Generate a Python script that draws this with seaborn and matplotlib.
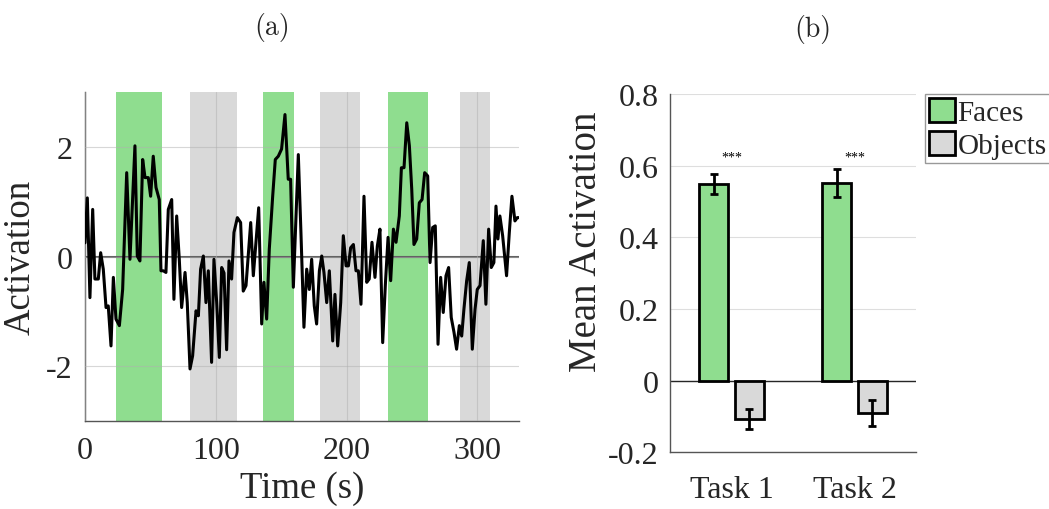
import numpy as np
import pandas as pd
import matplotlib
matplotlib.use('Agg')
import matplotlib.pyplot as plt
import seaborn as sns

sns.set_style('white')
plt.rcParams['font.family'] = ['Liberation Serif', 'DejaVu Serif']
plt.rcParams['axes.unicode_minus'] = False

# (a) time course
time_s = [0, 1.8, 3.8, 5.9, 7.6, 10.2, 12.0, 14.0, 16.1, 17.8, 19.9, 21.7, 23.7, 26.3, 28.8,
          31.9, 34.4, 38.2, 40.0, 42.0, 44.1, 45.9, 48.4, 50.2, 52.2, 54.3, 56.8, 58.1, 59.9,
          61.9, 63.7, 66.3, 68.0, 70.1, 72.1, 73.9, 76.5, 78.2, 80.3, 82.3, 84.9, 86.7, 88.4,
          90.5, 92.5, 94.3, 96.8, 98.6, 100.7, 102.7, 104.5, 106.3, 108.3, 110.1, 112.1, 113.9,
          116.5, 119.0, 121.0, 123.1, 126.7, 128.7, 130.7, 132.8, 135.1, 136.8, 138.9, 140.9,
          143.5, 145.5, 147.8, 150.3, 152.9, 155.4, 157.2, 159.3, 161.3, 163.1, 165.1, 167.4,
          169.5, 171.5, 173.3, 175.3, 177.1, 179.2, 181.0, 182.7, 184.8, 186.8, 189.4, 191.1,
          193.2, 195.5, 197.5, 199.6, 201.4, 203.1, 205.2, 207.2, 209.0, 211.0, 213.3, 215.4,
          217.3, 219.4, 221.7, 223.5, 225.5, 227.6, 229.6, 231.7, 233.7, 235.8, 237.8, 240.3,
          241.9, 243.9, 246.0, 248.0, 249.8, 251.5, 253.6, 255.6, 257.7, 259.7, 262.0, 263.8,
          265.8, 267.8, 269.9, 271.9, 273.9, 276.0, 278.0, 280.0, 282.1, 284.1, 286.2, 288.0,
          289.7, 291.8, 293.8, 296.1, 298.2, 299.9, 302.0, 304.5, 306.5, 308.6, 310.6, 312.6,
          314.2, 315.7, 317.2, 319.3, 322.3, 324.4, 326.4, 328.7, 330.5, 332.0]
activation = [0.25, 1.07, -0.75, 0.86, -0.41, -0.41, 0.07, -0.23, -0.93, -0.9, -1.63, -0.38, -1.14,
              -1.26, -0.6, 1.53, -0.05, 2.02, 0.01, -0.08, 1.77, 1.44, 1.44, 1.1, 1.83, 1.26, 1.04,
              -0.26, -0.26, -0.29, 0.86, 1.04, -0.78, 0.74, -0.05, -0.93, -0.29, -0.84, -2.05,
              -1.81, -0.99, -1.08, -0.23, 0.01, -0.84, -0.26, -1.93, -0.05, -0.84, -1.84, -0.2,
              -0.3, -1.7, -0.08, -0.41, 0.44, 0.71, 0.62, -0.63, -0.53, 0.62, -0.35, 0.26, 0.89,
              -1.23, -0.47, -1.14, 0.13, 1.1, 1.77, 1.83, 1.96, 2.59, 1.41, 1.41, -0.56, 0.74,
              1.86, 0.44, -1.29, -0.23, -0.6, -0.05, -0.9, -1.23, -0.26, 0.01, -0.29, -0.84, -0.26,
              -1.54, -0.69, -1.63, -0.84, 0.38, -0.17, -0.17, 0.16, 0.22, -0.26, -0.26, -0.87, 1.1,
              -0.47, -0.41, 0.26, -0.38, 0.19, 0.5, -1.57, -0.53, 0.35, -0.44, 0.5, 0.26, 0.74,
              1.62, 1.62, 2.44, 2.02, 1.23, 0.22, 0.32, 0.98, 1.04, 1.53, 1.47, -0.11, 0.53, 0.56,
              -1.6, -0.38, -1.02, -0.35, -0.2, -1.11, -1.38, -1.69, -1.26, -1.45, -0.96, -0.44,
              -0.11, -1.69, -0.96, -0.6, -0.53, 0.29, -0.87, 0.5, -0.2, -0.11, 0.92, 0.32, 0.74,
              0.38, -0.35, 0.44, 1.1, 0.65, 0.71, 0.71]
face_blocks = [(24, 59), (136, 160), (232, 262)]
object_blocks = [(80, 116), (180, 210), (287, 310)]

# (b) mean activation per task
tasks = ['Task 1', 'Task 2']
conditions = ['Faces', 'Objects']
faces_mean = [0.549, 0.551]
objects_mean = [-0.107, -0.090]
faces_err = [0.029, 0.039]
objects_err = [0.028, 0.036]
stars = ['***', '***']

green = '#8fdd8f'
gray = '#d9d9d9'
txt = '#262626'

fig = plt.figure(figsize=(10.49, 5.10), dpi=100)
ax1 = fig.add_axes([0.081, 0.1725, 0.414, 0.645])
ax2 = fig.add_axes([0.6387, 0.1112, 0.2345, 0.7025])

# ---- panel (a)
for a, b in face_blocks:
    ax1.axvspan(a, b, color=green, lw=0, zorder=0)
for a, b in object_blocks:
    ax1.axvspan(a, b, color=gray, lw=0, zorder=0)
ax1.grid(True, color='#b0b0b0', lw=0.8, alpha=0.5)
ax1.set_axisbelow(False)
ax1.axhline(0, color='#606060', lw=1.5, zorder=2)
sns.lineplot(x=time_s, y=activation, color='black', lw=2.2, ax=ax1, zorder=3)
ax1.set_xlim(0, 332)
ax1.set_ylim(-3, 3)
ax1.set_xticks([0, 100, 200, 300])
ax1.set_yticks([-2, 0, 2])
ax1.set_xlabel('Time (s)', fontsize=26.5, color=txt, labelpad=4)
ax1.set_ylabel('Activation', fontsize=26.5, color=txt, labelpad=6)
ax1.tick_params(direction='in', length=4, width=0.8, color='#555555', labelsize=23,
                labelcolor=txt, pad=9)
ax1.tick_params(axis='x', pad=11)
for s in ['top', 'right']:
    ax1.spines[s].set_visible(False)
for s in ['left', 'bottom']:
    ax1.spines[s].set_color('#555555')
    ax1.spines[s].set_linewidth(1)

# ---- panel (b)
df = pd.DataFrame({
    'task': tasks * 2,
    'condition': [conditions[0]] * 2 + [conditions[1]] * 2,
    'mean': faces_mean + objects_mean,
})
ax2.grid(True, color='#d0d0d0', lw=0.8, alpha=0.7)
ax2.set_axisbelow(True)
sns.barplot(data=df, x='task', y='mean', hue='condition', palette=[green, gray],
            saturation=1, width=0.58, gap=0.19, edgecolor='black', linewidth=2,
            errorbar=None, ax=ax2, zorder=2)
ax2.axhline(0, color=txt, lw=1, zorder=1)
for cont, errs in zip(ax2.containers, [faces_err, objects_err]):
    xs = [p.get_x() + p.get_width() / 2 for p in cont.patches]
    ys = [p.get_height() for p in cont.patches]
    ax2.errorbar(xs, ys, yerr=errs, fmt='none', ecolor='black', elinewidth=2,
                 capsize=3, capthick=2, zorder=3)
for i, s in enumerate(stars):
    ax2.text(i, 0.623, s, ha='center', va='center', fontsize=10, color='black')
ax2.set_xlim(-0.5, 1.5)
ax2.set_ylim(-0.2, 0.8)
yt = [-0.2, 0, 0.2, 0.4, 0.6, 0.8]
ax2.set_yticks(yt)
ax2.set_yticklabels([f'{v:g}' for v in yt])
ax2.set_xlabel('')
ax2.set_ylabel('Mean Activation', fontsize=28, color=txt)
ax2.yaxis.set_label_coords(-0.265, 0.59)
ax2.tick_params(direction='in', length=4, width=0.8, color='#555555', labelsize=23,
                labelcolor=txt, pad=8)
ax2.tick_params(axis='x', pad=16)
for s in ['top', 'right']:
    ax2.spines[s].set_visible(False)
for s in ['left', 'bottom']:
    ax2.spines[s].set_color('#555555')
    ax2.spines[s].set_linewidth(1)
leg = ax2.legend(loc='upper left', bbox_to_anchor=(1.035, 1.0), fontsize=21, frameon=True,
                 fancybox=False, edgecolor='#808080', handlelength=0.88, handleheight=0.88,
                 handletextpad=0.1, labelspacing=0.15, borderpad=0.15, borderaxespad=0)
leg.get_frame().set_linewidth(1)
for t in leg.get_texts():
    t.set_color(txt)

fig.text(272 / 1049, 1 - 27 / 510, '(a)', family='cmr10', fontsize=20, ha='center', va='center')
fig.text(813 / 1049, 1 - 30 / 510, '(b)', family='cmr10', fontsize=20, ha='center', va='center')

fig.savefig('out.png', dpi=100)
